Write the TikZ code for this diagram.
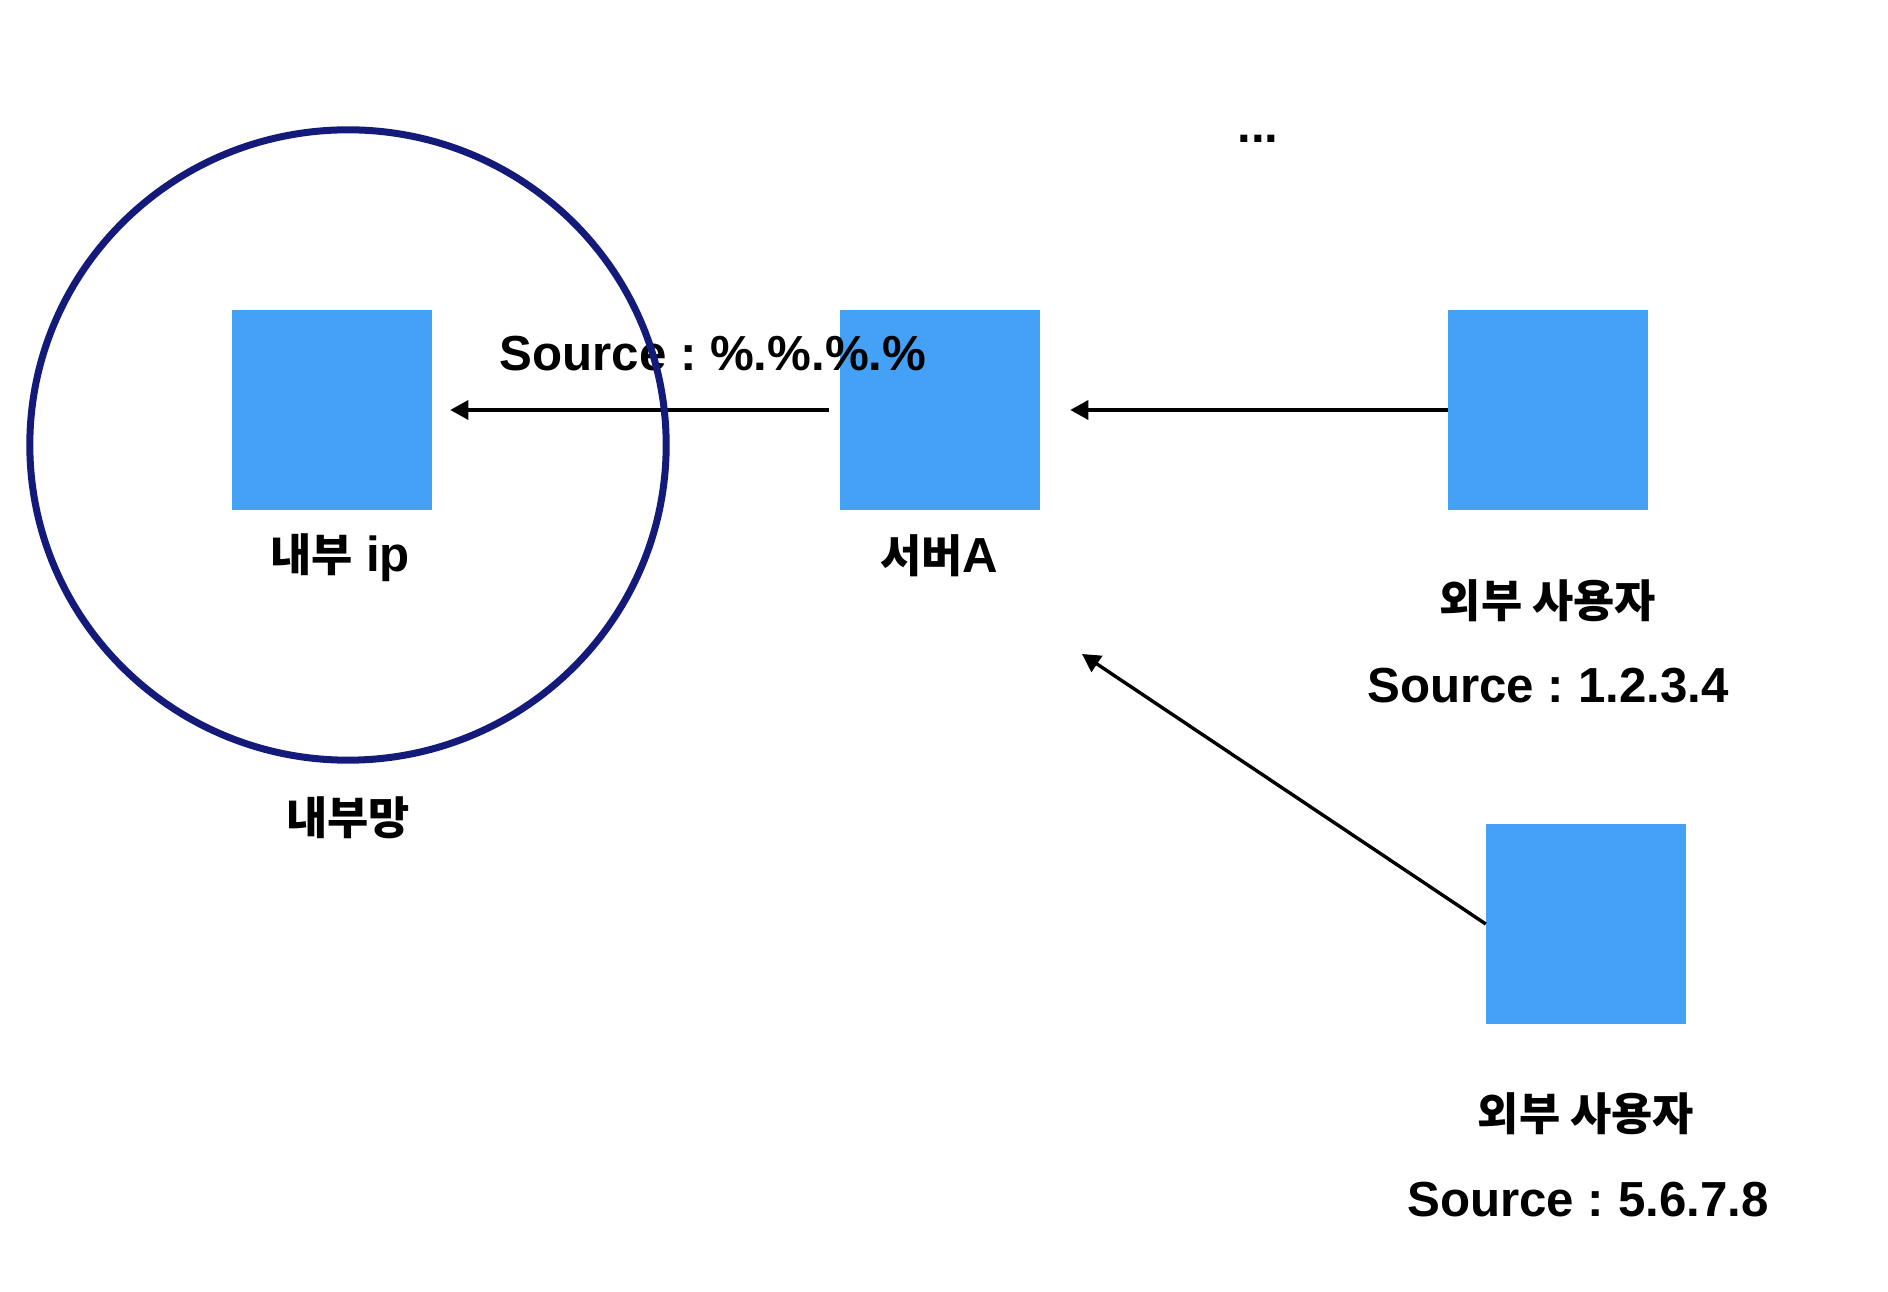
\documentclass[tikz,border=0pt]{standalone}
\usepackage{fontspec}
\setmainfont{Liberation Sans}
\newfontfamily\kr[Scale=0.91]{Noto Sans CJK KR}
\usetikzlibrary{arrows.meta}
\definecolor{hostblue}{RGB}{69,161,246}
\definecolor{netnavy}{RGB}{20,26,122}
\frenchspacing

\begin{document}
\begin{tikzpicture}[x=0.01cm,y=-0.01cm,
  hostbox/.style={fill=hostblue, minimum size=1.99cm, inner sep=0},
  lbl/.style={font=\fontsize{14}{17}\selectfont\bfseries, inner sep=0},
  flow/.style={line width=0.034cm, -{Triangle[length=0.18cm,width=0.19cm]}}]
\useasboundingbox (0,0) rectangle (1888,1292);

% hosts
\node[hostbox] (inner) at (332,410) {};
\node[hostbox] (srv) at (940,410) {};
\node[hostbox] (ext1) at (1548,410) {};
\node[hostbox] (ext2) at (1586,924) {};

% labels
\node[lbl, anchor=base] (innerlbl) at (340,572) {{\kr 내부} ip};
\node[lbl, anchor=base] (srvlbl) at (939,573) {{\kr 서버}A};
\node[lbl] (netlbl) at (348,818) {\kr 내부망};
\node[lbl] (ext1lbl) at (1548,601) {\kr 외부 사용자};
\node[lbl, anchor=base] (ext1src) at (1548,703) {Source : 1.2.3.4};
\node[lbl] (ext2lbl) at (1586,1114) {\kr 외부 사용자};
\node[lbl, anchor=base] (ext2src) at (1588,1216) {Source : 5.6.7.8};
\node[lbl, anchor=base] (srvsrc) at (713,371) {Source : \%.\%.\%.\%};
\node[lbl, anchor=base] (more) at (1258,143) {...};

% connections
\coordinate (tip3) at (1082,654);
\draw[flow, shorten <=0.11cm, shorten >=0.18cm] (srv.west) -- (inner.east);
\draw[flow, shorten >=0.30cm] (ext1.west) -- (srv.east);
\draw[flow] (ext2.west) -- (tip3);

% internal network
\draw[netnavy, line width=0.07cm] (348,445) ellipse [x radius=3.18cm, y radius=3.15cm];
\end{tikzpicture}
\end{document}
